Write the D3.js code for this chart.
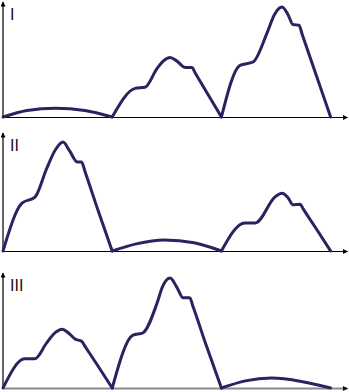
<!DOCTYPE html>
<html>
<head>
<meta charset="utf-8">
<script src="https://cdn.jsdelivr.net/npm/d3@7"></script>
<style>
  body { margin: 0; background: #fff; }
  svg { display: block; }
</style>
</head>
<body>
<div id="chart"></div>
<script>
// three panels, each series split into its three humps (x in time units, y in %)
const panelLabels = ['I', 'II', 'III'];

const seriesI = [
  [[0, 0], [2.2, 6], [4.8, 8], [7.5, 6], [10, 0]],
  [[10, 0], [12.1, 26], [13.0, 27], [14.1, 44], [14.7, 51], [15.3, 54], [15.9, 51], [16.7, 45], [17.3, 45], [17.6, 40], [18.8, 20], [20, 0]],
  [[20, 0], [21.7, 47], [22.9, 50], [24.2, 77], [24.85, 93], [25.55, 100], [26.1, 93], [26.55, 84], [27.1, 83.5], [27.4, 75], [28.7, 37.5], [30, 0]]
];

const seriesII = [
  [[0, 0], [1.74, 43.5], [2.93, 49], [4.0, 75], [4.8, 92], [5.5, 99], [6.1, 91], [6.8, 81], [7.2, 81], [7.5, 72.5], [8.7, 37], [10, 0]],
  [[10, 0], [12.2, 6.5], [14.8, 10], [17.5, 7.5], [20, 0]],
  [[20, 0], [22.15, 25.5], [23.1, 25.5], [24.95, 49.5], [25.55, 52.5], [26.1, 48.5], [26.55, 42], [27.2, 42.5], [27.5, 38], [28.7, 20], [30, 0]]
];

const seriesIII = [
  [[0, 0], [2.0, 26.5], [2.9, 26.5], [4.0, 41], [4.8, 50.5], [5.4, 53.5], [6.0, 50], [6.6, 44.5], [7.2, 42.5], [7.5, 38], [8.7, 20], [10, 0]],
  [[10, 0], [11.9, 48], [12.8, 50], [14.1, 77], [14.6, 92], [15.3, 100], [15.9, 92], [16.5, 82], [17.1, 82], [17.4, 74], [18.6, 39], [20, 0]],
  [[20, 0], [22.2, 6.5], [24.6, 9], [27.3, 6], [30, 0]]
];

const allSeries = [seriesI, seriesII, seriesIII];

const W = 349, H = 392;
const baselines = [117, 251, 388];
const axisTops = [2, 133, 273];
const plotHeight = 110;
const lineColor = '#2d2160';

const svg = d3.select('#chart').append('svg')
    .attr('width', W)
    .attr('height', H);

const defs = svg.append('defs');
['black', 'grey'].forEach(function (name) {
  defs.append('marker')
      .attr('id', 'arrow-' + name)
      .attr('viewBox', '0 0 10 10')
      .attr('refX', 9)
      .attr('refY', 5)
      .attr('markerUnits', 'userSpaceOnUse')
      .attr('markerWidth', 6)
      .attr('markerHeight', 5)
      .attr('orient', 'auto')
    .append('path')
      .attr('d', 'M0,0L10,5L0,10z')
      .attr('fill', name === 'black' ? '#000' : '#111');
});

const x = d3.scaleLinear().domain([0, 31.5]).range([3, 347]);

allSeries.forEach(function (series, i) {
  const base = baselines[i];
  const y = d3.scaleLinear().domain([0, 100]).range([base, base - plotHeight]);

  const g = svg.append('g');

  // x axis with arrow
  const xAxis = g.append('g')
      .attr('transform', 'translate(0,' + base + ')')
      .call(d3.axisBottom(x).tickValues([]).tickSizeOuter(0));
  xAxis.select('.domain')
      .attr('stroke', i === 2 ? '#8a8a8a' : '#000')
      .attr('stroke-width', i === 2 ? 2 : 1)
      .attr('marker-end', i === 2 ? 'url(#arrow-grey)' : 'url(#arrow-black)');

  // y axis with arrow (drawn bottom -> top)
  const yAxisScale = d3.scaleLinear().domain([0, 1]).range([base, axisTops[i]]);
  const yAxis = g.append('g')
      .attr('transform', 'translate(' + x(0) + ',0)')
      .call(d3.axisLeft(yAxisScale).tickValues([]).tickSizeOuter(0));
  yAxis.select('.domain')
      .attr('d', 'M0,' + base + 'V' + axisTops[i])
      .attr('stroke', '#000')
      .attr('stroke-width', 1.2)
      .attr('marker-end', 'url(#arrow-black)');

  // label
  g.append('text')
      .attr('x', 10)
      .attr('y', axisTops[i] + 18)
      .attr('font-family', '"Liberation Sans", Arial, sans-serif')
      .attr('font-size', 16)
      .attr('fill', '#111')
      .text(panelLabels[i]);

  const line = d3.line()
      .x(function (d) { return x(d[0]); })
      .y(function (d) { return y(d[1]); })
      .curve(d3.curveMonotoneX);

  g.selectAll('path.hump')
      .data(series)
      .enter()
      .append('path')
      .attr('class', 'hump')
      .attr('d', line)
      .attr('fill', 'none')
      .attr('stroke', lineColor)
      .attr('stroke-width', 3)
      .attr('stroke-linecap', 'round')
      .attr('stroke-linejoin', 'round');
});
</script>
</body>
</html>
